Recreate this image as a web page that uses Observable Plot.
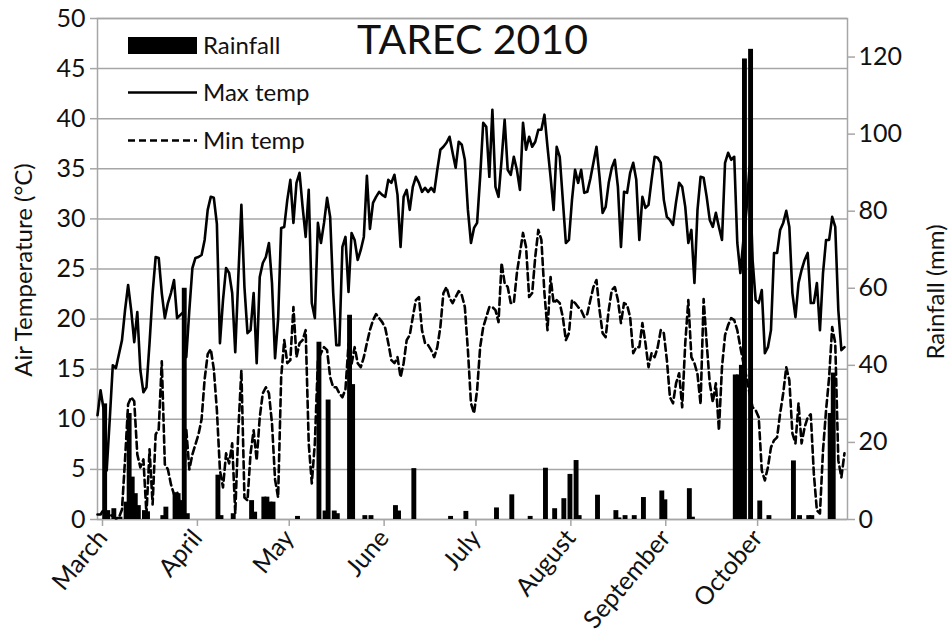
<!DOCTYPE html>
<html>
<head>
<meta charset="utf-8">
<script src="https://cdn.jsdelivr.net/npm/d3@7"></script>
<script src="https://cdn.jsdelivr.net/npm/@observablehq/plot@0.6"></script>
<style>
  body { margin: 0; background: #fff; }
  #wrap { position: relative; width: 951px; height: 642px; font-family: Lato, sans-serif; color: #111; }
  #wrap > svg { position: absolute; left: 0; top: 0; }
  .ov { position: absolute; white-space: nowrap; }
  .rot { transform: translate(-50%, -50%) rotate(-90deg); font-size: 24px; }
  .leg { position: absolute; left: 128px; display: flex; align-items: center; font-size: 24px; line-height: 1; }
  .leg svg { display: block; margin-right: 6px; }
</style>
</head>
<body>
<div id="wrap"></div>
<script>
// ---- data -------------------------------------------------------------
const monthLabels = ["March", "April", "May", "June", "July", "August", "September", "October"];
const monthStartDay = [0, 31, 61, 92, 122, 153, 184, 214]; // day index from 1 March 2010

// daily maximum air temperature (°C), 1 Mar – 31 Oct 2010
const maxTemp = [
  10.4,12.9,11.0,4.9,10.0,15.4,15.1,16.5,17.9,20.9,
  23.4,20.9,17.7,20.7,14.9,12.7,13.2,17.6,22.6,26.2,
  26.1,22.6,20.1,21.6,22.6,23.9,20.1,20.4,20.7,16.2,
  20.9,25.1,26.1,26.2,26.4,27.9,30.9,32.2,32.1,29.5,
  17.6,21.9,25.1,24.6,22.6,16.7,24.2,31.4,23.2,18.6,
  18.9,22.6,15.6,24.2,25.6,26.2,27.6,23.6,16.1,20.0,
  29.1,29.2,31.9,33.9,29.6,33.6,34.6,31.2,28.2,32.9,
  21.6,20.1,29.6,27.6,29.6,32.1,30.2,22.6,17.4,17.4,
  27.2,28.2,22.7,28.6,27.9,25.9,26.9,28.2,34.3,29.0,
  31.6,32.2,32.7,32.4,32.2,33.9,33.6,34.4,32.4,27.2,
  32.2,32.9,30.9,33.2,34.2,33.6,32.7,33.1,32.7,33.1,
  32.7,34.9,36.9,37.2,37.6,38.2,36.6,35.1,37.7,37.4,
  35.9,30.9,27.6,29.1,29.6,34.2,39.6,39.2,34.2,40.9,
  33.2,32.2,35.9,39.9,34.9,34.4,36.2,34.9,32.9,39.6,
  36.9,38.2,37.2,37.7,38.9,38.9,40.4,37.2,34.2,30.9,
  37.2,36.2,31.9,27.6,27.9,31.9,34.9,33.6,34.9,32.6,
  32.7,34.0,35.6,37.2,34.2,30.6,31.2,33.6,35.1,35.9,
  33.2,27.2,32.7,32.6,34.6,35.6,33.9,27.9,32.2,31.1,
  31.4,33.9,36.2,36.1,35.6,31.9,30.2,29.9,29.4,31.7,
  33.6,33.2,31.2,27.6,28.9,23.6,30.9,34.2,34.1,32.2,
  29.9,29.2,30.6,29.2,27.9,35.6,36.6,35.9,36.2,27.6,
  24.6,27.9,30.9,35.2,25.9,21.9,21.6,22.9,16.6,17.2,
  18.9,26.6,26.6,28.9,29.6,30.8,29.2,22.6,20.2,23.6,
  24.9,25.9,26.6,21.6,21.6,23.6,18.9,24.6,27.9,27.9,
  30.2,29.2,20.9,16.9,17.2
];

// daily minimum air temperature (°C)
const minTemp = [
  0.5,0.5,1.0,0.3,0.5,0.3,0.1,0.2,1.0,6.0,
  11.5,12.2,11.8,6.5,5.2,6.0,0.5,7.0,1.5,8.5,
  9.0,15.8,5.5,5.0,3.5,2.5,2.8,1.5,1.0,9.0,
  5.0,6.5,7.5,8.5,10.0,14.0,16.5,17.0,15.0,10.9,
  4.9,3.2,6.6,5.6,7.6,0.6,8.9,14.9,2.2,1.9,
  6.6,8.9,5.9,10.2,12.6,13.2,12.6,9.6,4.0,2.2,
  14.2,17.9,15.6,15.9,21.2,16.2,17.6,17.9,18.9,7.6,
  3.6,7.6,15.9,16.6,17.2,16.9,14.2,13.2,13.2,12.6,
  12.2,13.0,17.5,15.5,17.2,15.6,15.2,16.2,17.6,18.9,
  19.9,20.5,20.1,19.7,19.1,17.6,15.9,15.6,16.2,14.2,
  15.6,17.9,18.4,20.2,21.9,22.2,18.9,17.6,17.4,16.9,
  16.2,17.2,19.2,22.6,23.2,22.1,21.6,22.2,22.8,22.4,
  21.2,16.9,11.6,10.6,12.9,17.2,19.2,20.2,21.2,21.2,
  20.9,19.7,25.6,23.6,23.2,21.6,21.6,24.6,26.6,28.6,
  27.2,22.2,22.6,26.2,28.9,27.9,22.6,18.9,24.2,21.6,
  21.9,21.6,20.2,17.9,18.6,21.9,21.6,21.2,20.9,20.2,
  20.5,21.9,23.2,23.9,20.9,18.6,18.2,20.9,22.9,23.2,
  21.9,19.6,21.6,21.4,20.2,16.6,17.2,17.2,19.6,17.6,
  15.2,16.6,16.2,17.2,18.9,18.6,15.9,12.2,11.6,13.6,
  14.6,11.2,17.6,21.9,16.2,15.6,14.5,11.5,22.0,17.6,
  13.6,11.7,13.6,8.9,15.2,18.4,19.4,20.1,19.9,18.9,
  17.2,15.6,14.2,12.6,11.2,10.9,10.2,4.9,3.9,5.2,
  7.2,7.9,8.2,10.6,12.6,15.2,13.9,8.6,7.6,11.6,
  7.6,9.2,10.2,10.5,4.6,0.9,0.6,6.9,10.9,14.2,
  19.2,17.6,5.9,4.2,6.6
];

// rainfall events: day index and amount (mm)
const rainDay = [2,3,5,7,9,10,11,12,13,15,16,21,22,25,26,27,28,29,39,40,44,50,51,54,55,56,57,65,
  72,74,75,77,78,82,83,87,89,97,98,103,115,120,130,135,141,146,149,152,154,156,157,163,169,170,
  172,175,178,184,185,193,194,208,209,210,211,213,216,219,227,229,232,233,239,240];
const rainMm = [30,2.3,2.8,0.6,4.5,27.5,11,6.7,3.6,2.3,2.0,1.0,3.2,6.7,6.7,4.9,60,1.5,11.5,1.0,1.5,4.9,1.9,5.8,5.8,4.5,4.5,0.8,
  46,2.2,31,2.2,1.5,53,35,1.0,1.0,3.6,2.2,13.2,0.8,2.1,3.0,6.4,0.8,13.3,2.8,5.4,11.7,15.3,1.0,6.3,2.3,0.4,
  1.0,1.0,5.7,7.4,5.1,8.0,0.6,37.5,37.5,40,119.5,122,4.8,1.0,15.2,1.0,1.0,1.0,27.5,38];

const tempTicks = d3.range(0, 51, 5);
const rainTicks = d3.range(0, 121, 20);
const T_MAX = 50, RAIN_MAX = 130;
// ----------------------------------------------------------------------

const k = T_MAX / RAIN_MAX; // rainfall mm -> temperature-axis units
const temps = maxTemp.map((v, d) => ({d, max: v, min: minTemp[d]}));
const rain = rainDay.map((d, i) => ({d, mm: rainMm[i]}));
const labelByDay = new Map(monthStartDay.map((d, i) => [d, monthLabels[i]]));
const gray = "#a6a6a6";

const chart = Plot.plot({
  width: 951,
  height: 642,
  marginLeft: 97,
  marginRight: 104,
  marginTop: 18,
  marginBottom: 123,
  x: {domain: [0, 245]},
  y: {domain: [0, T_MAX]},
  style: {fontFamily: "Lato, sans-serif", fontSize: "25px", color: "#111", background: "transparent"},
  marks: [
    Plot.gridY(tempTicks, {stroke: gray, strokeOpacity: 1, strokeWidth: 1.5}),
    Plot.frame({stroke: gray, strokeWidth: 1.5}),
    Plot.axisY(tempTicks, {anchor: "left", tickSize: 7, tickPadding: 5, stroke: gray, strokeWidth: 1.5, fill: "#111", fontSize: 25, label: null}),
    Plot.axisY(rainTicks.map(r => r * k), {anchor: "right", tickSize: 7, tickPadding: 4, stroke: gray, strokeWidth: 1.5, fill: "#111", fontSize: 25,
      tickFormat: v => String(Math.round(v / k)), label: null}),
    Plot.axisX(monthStartDay, {anchor: "bottom", tickSize: 7, tickPadding: 7, stroke: gray, strokeWidth: 1.5, fill: "#111", fontSize: 25,
      tickRotate: -50, tickFormat: d => labelByDay.get(d), label: null, dx: 5}),
    Plot.rect(rain, {x1: r => r.d + 0.5 - 0.8, x2: r => r.d + 0.5 + 0.8, y1: 0, y2: r => r.mm * k, fill: "#000"}),
    Plot.line(temps, {x: "d", y: "max", stroke: "#000", strokeWidth: 2.6}),
    Plot.line(temps, {x: "d", y: "min", stroke: "#000", strokeWidth: 2.6, strokeDasharray: "7,4"}),
    Plot.text(["TAREC 2010"], {frameAnchor: "top", dy: 22, lineAnchor: "middle", fontSize: 41, fill: "#111", text: d => d})
  ]
});

const wrap = document.getElementById("wrap");
wrap.appendChild(chart);

function addOv(html, style, cls) {
  const el = document.createElement("div");
  el.className = cls;
  el.innerHTML = html;
  Object.assign(el.style, style);
  wrap.appendChild(el);
  return el;
}
addOv("Air Temperature (°C)", {left: "22px", top: "270px"}, "ov rot");
addOv("Rainfall (mm)", {left: "934px", top: "292px"}, "ov rot");

const legendItems = [
  {name: "Rainfall", top: 33, swatch: '<rect x="0" y="3" width="69" height="17" fill="#000"/>'},
  {name: "Max temp", top: 80, swatch: '<line x1="0" x2="69" y1="11.5" y2="11.5" stroke="#000" stroke-width="2.6"/>'},
  {name: "Min temp", top: 128, swatch: '<line x1="0" x2="69" y1="11.5" y2="11.5" stroke="#000" stroke-width="2.6" stroke-dasharray="7,4"/>'}
];
for (const it of legendItems) {
  addOv(`<svg width="69" height="23">${it.swatch}</svg><span>${it.name}</span>`, {top: it.top + "px"}, "leg");
}
</script>
</body>
</html>
